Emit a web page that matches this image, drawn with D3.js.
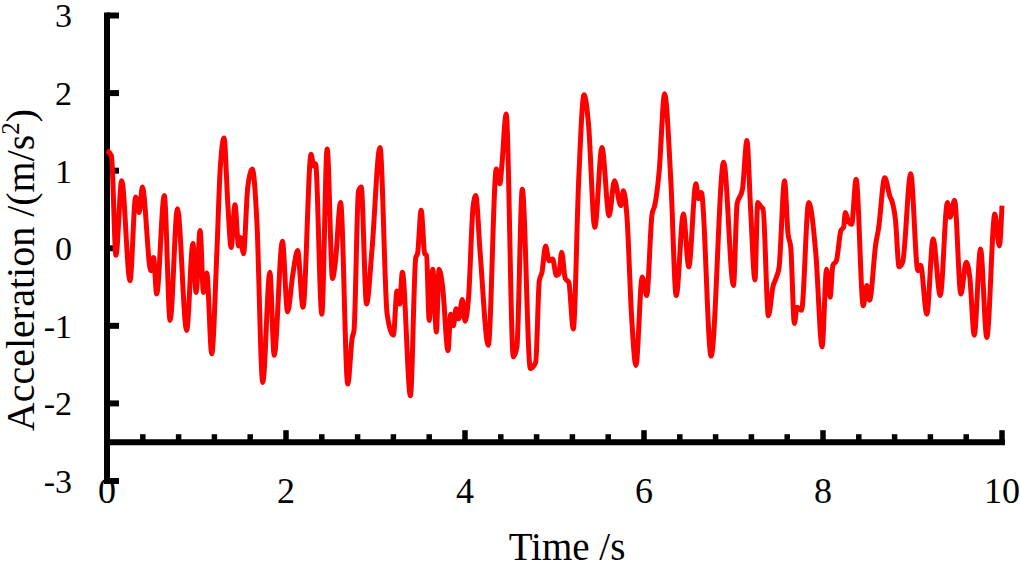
<!DOCTYPE html>
<html>
<head>
<meta charset="utf-8">
<script src="https://cdn.jsdelivr.net/npm/d3@7"></script>
<style>
  html, body { margin: 0; padding: 0; background: #fff; }
  text { font-family: "Liberation Serif", "Times New Roman", serif; fill: #000; }
</style>
</head>
<body>
<div id="chart"></div>
<script>
// time (s) and acceleration (m/s^2)
var time = [
    0.00, 0.05, 0.10, 0.164, 0.257, 0.32, 0.36, 0.395, 0.49, 0.52, 0.555, 0.64, 0.705, 0.787, 0.89, 0.96, 0.995,
    1.04, 1.078, 1.115, 1.17, 1.227, 1.264, 1.308, 1.35, 1.387, 1.43, 1.47, 1.49, 1.525, 1.573, 1.625, 1.674,
    1.74, 1.82, 1.868, 1.96, 2.017, 2.077, 2.13, 2.19, 2.28, 2.31, 2.33, 2.40, 2.46, 2.52, 2.55, 2.61, 2.69,
    2.74, 2.76, 2.81, 2.84, 2.90, 2.96, 3.05, 3.13, 3.20, 3.24, 3.27, 3.30, 3.39, 3.45, 3.47, 3.51, 3.55, 3.57,
    3.60, 3.64, 3.68, 3.71, 3.75, 3.81, 3.84, 3.87, 3.90, 3.93, 3.97, 4.00, 4.04, 4.09, 4.12, 4.17, 4.26, 4.35,
    4.39, 4.41, 4.46, 4.54, 4.58, 4.64, 4.73, 4.79, 4.83, 4.86, 4.90, 4.94, 4.98, 5.02, 5.05, 5.08, 5.12, 5.16,
    5.21, 5.27, 5.33, 5.38, 5.45, 5.53, 5.61, 5.67, 5.74, 5.77, 5.81, 5.86, 5.91, 5.98, 6.00, 6.03, 6.09, 6.12,
    6.17, 6.23, 6.30, 6.36, 6.44, 6.50, 6.58, 6.61, 6.64, 6.75, 6.89, 7.00, 7.04, 7.10, 7.15, 7.19, 7.24, 7.27,
    7.31, 7.33, 7.39, 7.44, 7.48, 7.51, 7.57, 7.61, 7.64, 7.68, 7.71, 7.76, 7.84, 7.92, 7.99, 8.04, 8.08, 8.11,
    8.15, 8.20, 8.23, 8.25, 8.28, 8.32, 8.37, 8.45, 8.49, 8.52, 8.59, 8.62, 8.69, 8.75, 8.77, 8.81, 8.85, 8.89,
    8.98, 9.06, 9.09, 9.16, 9.23, 9.31, 9.39, 9.42, 9.47, 9.54, 9.60, 9.64, 9.69, 9.76, 9.83, 9.92, 9.97, 10.0
];
var accel = [
    1.26, 1.19, -0.09, 0.87, -0.42, 0.66, 0.46, 0.79, -0.29, -0.12, -0.59, 0.68, -0.93, 0.51, -1.06, 0.06, -0.57,
    0.23, -0.57, -0.32, -1.36, -0.07, 1.00, 1.42, 0.57, 0.01, 0.56, 0.03, 0.14, -0.07, 0.79, 1.02, 0.36,
    -1.73, -0.31, -1.38, 0.09, -0.82, -0.33, -0.03, -0.76, 1.21, 1.06, 1.09, -0.85, 1.28, -0.39, -0.20, 0.59, -1.75,
    -1.15, -1.06, 0.74, 0.79, -0.72, -0.03, 1.30, -0.85, -1.12, -0.55, -0.72, -0.31, -1.90, -0.12, -0.07, 0.49, -0.07, -0.09,
    -0.93, -0.27, -1.08, -0.27, -0.50, -1.32, -0.85, -1.00, -0.78, -0.91, -0.66, -0.94, -0.63, 0.53, 0.68, -0.07, -1.25, 1.02,
    0.83, 1.04, 1.73, -1.40, -1.27, 0.76, -1.55, -1.47, -0.42, -0.31, 0.03, -0.16, -0.14, -0.35, -0.33, -0.05, -0.39, -0.44,
    -1.04, 0.87, 1.98, 1.60, 0.27, 1.30, 0.42, 0.87, 0.55, 0.74, 0.40, -0.85, -1.51, -0.37, -0.44, -0.61, 0.44, 0.55,
    1.00, 1.99, 0.87, -0.61, 0.44, -0.24, 0.83, 0.64, 0.72, -1.39, 1.11, -0.48, 0.57, 0.76, 1.39, 0.53, -0.41, 0.59,
    0.53, 0.51, -0.87, -0.50, -0.37, -0.24, 0.87, 0.18, 0.01, -0.97, -0.76, -0.80, 0.59, -0.07, -1.27, -0.27, -0.63, -0.22,
    -0.16, 0.23, 0.27, 0.46, 0.36, 0.31, 0.89, -0.74, -0.48, -0.67, 0.06, 0.25, 0.91, 0.66, 0.61, 0.36, -0.24, -0.18,
    0.96, -0.29, -0.22, -0.85, 0.12, -0.61, 0.59, 0.40, 0.62, -0.59, -0.18, -0.37, -1.12, -0.01, -1.15, 0.44, 0.03, 0.55
];
var xMajorTicks = [0, 2, 4, 6, 8, 10];
var xMinorTicks = d3.range(0, 10.01, 0.4).filter(function (d) { return Math.abs(d / 2 - Math.round(d / 2)) > 0.01; });
var yTicks = [-3, -2, -1, 0, 1, 2, 3];
var xAxisAt = -2.5;

var width = 1020, height = 566;

var x = d3.scaleLinear().domain([0, 10]).range([107, 1002]);
var y = d3.scaleLinear().domain([-3, 3]).range([481, 15.5]);

var svg = d3.select('#chart').append('svg')
    .attr('width', width)
    .attr('height', height);

svg.append('rect').attr('width', width).attr('height', height).attr('fill', '#fff');

// y axis spine + inward ticks
svg.append('line')
    .attr('x1', x(0)).attr('x2', x(0))
    .attr('y1', y(3) - 3).attr('y2', y(-3) + 3)
    .attr('stroke', '#000').attr('stroke-width', 6);

svg.selectAll('.ytick').data(yTicks).enter().append('line')
    .attr('class', 'ytick')
    .attr('x1', x(0)).attr('x2', x(0) + 12)
    .attr('y1', function (d) { return y(d); })
    .attr('y2', function (d) { return y(d); })
    .attr('stroke', '#000').attr('stroke-width', 6);

// x axis spine at -2.5
svg.append('line')
    .attr('x1', x(0) - 3).attr('x2', x(10) + 3)
    .attr('y1', y(xAxisAt)).attr('y2', y(xAxisAt))
    .attr('stroke', '#000').attr('stroke-width', 6);

svg.selectAll('.xmajor').data(xMajorTicks).enter().append('line')
    .attr('class', 'xmajor')
    .attr('x1', function (d) { return x(d); })
    .attr('x2', function (d) { return x(d); })
    .attr('y1', y(xAxisAt)).attr('y2', y(xAxisAt) - 12)
    .attr('stroke', '#000').attr('stroke-width', 5.5);

svg.selectAll('.xminor').data(xMinorTicks).enter().append('line')
    .attr('class', 'xminor')
    .attr('x1', function (d) { return x(d); })
    .attr('x2', function (d) { return x(d); })
    .attr('y1', y(xAxisAt)).attr('y2', y(xAxisAt) - 8)
    .attr('stroke', '#000').attr('stroke-width', 5.5);

// tick labels
svg.selectAll('.ylab').data(yTicks).enter().append('text')
    .attr('class', 'ylab')
    .attr('x', 72)
    .attr('y', function (d) { return y(d); })
    .attr('dy', '0.35em')
    .attr('text-anchor', 'end')
    .style('font-size', '34px')
    .text(function (d) { return d; });

svg.selectAll('.xlab').data(xMajorTicks).enter().append('text')
    .attr('class', 'xlab')
    .attr('x', function (d) { return x(d); })
    .attr('y', 503)
    .attr('text-anchor', 'middle')
    .style('font-size', '36px')
    .text(function (d) { return d; });

// axis titles
svg.append('text')
    .attr('x', 567).attr('y', 560)
    .attr('text-anchor', 'middle')
    .style('font-size', '39px')
    .text('Time /s');

var yTitle = svg.append('text')
    .attr('transform', 'translate(34,270) rotate(-90)')
    .attr('text-anchor', 'middle')
    .style('font-size', '40px');
yTitle.append('tspan').text('Acceleration /(m/s');
yTitle.append('tspan').attr('dy', -15).style('font-size', '25px').text('2');
yTitle.append('tspan').attr('dy', 15).text(')');

// signal
var pts = time.map(function (t, i) { return [t, accel[i]]; });

var line = d3.line()
    .x(function (d) { return x(d[0]); })
    .y(function (d) { return y(d[1]); })
    .curve(d3.curveMonotoneX);

svg.append('path')
    .datum(pts)
    .attr('d', line)
    .attr('fill', 'none')
    .attr('stroke', '#ff0000')
    .attr('stroke-width', 5)
    .attr('stroke-linejoin', 'round');
</script>
</body>
</html>
